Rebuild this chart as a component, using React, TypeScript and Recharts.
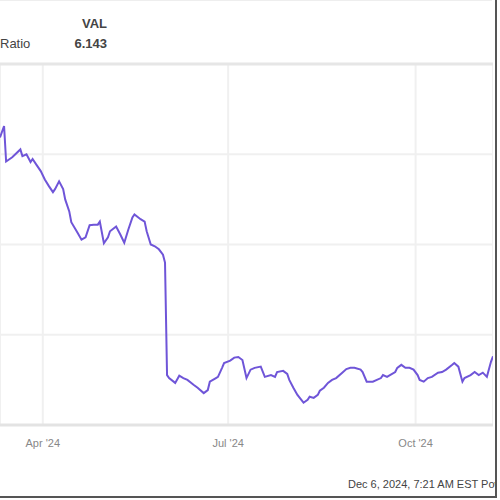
import React from "react";
import {
  LineChart,
  Line,
  XAxis,
  YAxis,
  CartesianGrid,
  ReferenceLine,
} from "recharts";

// ratio history
const dates = [
  "2024-03-11", "2024-03-13", "2024-03-14", "2024-03-17", "2024-03-21", "2024-03-22",
  "2024-03-24", "2024-03-26", "2024-03-27", "2024-03-29", "2024-03-31", "2024-04-02",
  "2024-04-04", "2024-04-06", "2024-04-07", "2024-04-09", "2024-04-11", "2024-04-12",
  "2024-04-14", "2024-04-15", "2024-04-18", "2024-04-20", "2024-04-22", "2024-04-24",
  "2024-04-26", "2024-04-28", "2024-04-29", "2024-05-01", "2024-05-03", "2024-05-04",
  "2024-05-07", "2024-05-09", "2024-05-11", "2024-05-13", "2024-05-15", "2024-05-16",
  "2024-05-19", "2024-05-21", "2024-05-22", "2024-05-24", "2024-05-26", "2024-05-28",
  "2024-05-30", "2024-05-31", "2024-06-01", "2024-06-02", "2024-06-05", "2024-06-07",
  "2024-06-09", "2024-06-11", "2024-06-14", "2024-06-16", "2024-06-19", "2024-06-21",
  "2024-06-22", "2024-06-25", "2024-06-26", "2024-06-28", "2024-06-29", "2024-07-02",
  "2024-07-04", "2024-07-06", "2024-07-08", "2024-07-10", "2024-07-12", "2024-07-14",
  "2024-07-17", "2024-07-19", "2024-07-22", "2024-07-24", "2024-07-25", "2024-07-28",
  "2024-07-30", "2024-07-31", "2024-08-02", "2024-08-04", "2024-08-07", "2024-08-09",
  "2024-08-10", "2024-08-12", "2024-08-14", "2024-08-15", "2024-08-17", "2024-08-19",
  "2024-08-21", "2024-08-23", "2024-08-26", "2024-08-28", "2024-08-30", "2024-09-01",
  "2024-09-04", "2024-09-05", "2024-09-07", "2024-09-10", "2024-09-12", "2024-09-14",
  "2024-09-15", "2024-09-17", "2024-09-18", "2024-09-21", "2024-09-22", "2024-09-24",
  "2024-09-26", "2024-09-28", "2024-09-30", "2024-10-02", "2024-10-03", "2024-10-05",
  "2024-10-07", "2024-10-09", "2024-10-12", "2024-10-14", "2024-10-16", "2024-10-19",
  "2024-10-20", "2024-10-22", "2024-10-24", "2024-10-25", "2024-10-28", "2024-10-30",
  "2024-11-01", "2024-11-03", "2024-11-05", "2024-11-07", "2024-11-08",
];

const ratio = [
  9.78, 9.97, 9.38, 9.45, 9.58, 9.47,
  9.5, 9.37, 9.42, 9.32, 9.22, 9.08,
  8.97, 8.87, 8.92, 9.05, 8.92, 8.75,
  8.55, 8.37, 8.2, 8.08, 8.12, 8.32,
  8.33, 8.33, 8.38, 8.02, 8.12, 8.22,
  8.3, 8.17, 8.03, 8.25, 8.45, 8.5,
  8.42, 8.38, 8.22, 8.0, 7.97, 7.92,
  7.83, 7.7, 5.83, 5.78, 5.7, 5.82,
  5.78, 5.75, 5.67, 5.62, 5.53, 5.58,
  5.72, 5.78, 5.8, 5.95, 6.03, 6.07,
  6.12, 6.13, 6.08, 5.78, 5.92, 5.95,
  5.97, 5.8, 5.83, 5.8, 5.88, 5.9,
  5.85, 5.75, 5.62, 5.5, 5.37, 5.42,
  5.47, 5.45, 5.5, 5.57, 5.62, 5.7,
  5.75, 5.78, 5.87, 5.93, 5.95, 5.95,
  5.92, 5.88, 5.72, 5.72, 5.75, 5.78,
  5.83, 5.8, 5.82, 5.88, 5.95, 6.0,
  5.95, 5.95, 5.92, 5.83, 5.75, 5.72,
  5.78, 5.8, 5.87, 5.88, 5.92, 6.0,
  6.03, 5.97, 5.72, 5.78, 5.83, 5.88,
  5.83, 5.87, 5.8, 6.05, 6.143,
];

const tickDates = ["2024-04-01", "2024-07-01", "2024-10-01"];
const tickLabels = ["Apr '24", "Jul '24", "Oct '24"];
const xRange = ["2024-03-11", "2024-11-08"];
const yTicks = [5, 6.5, 8, 9.5, 11];

const toTime = (d: string) => Date.parse(d + "T00:00:00Z");

const data = dates.map((d, i) => ({ t: toTime(d), v: ratio[i] }));
const ticks = tickDates.map(toTime);

const fmtTick = (t: number) => {
  const i = ticks.indexOf(t);
  return i >= 0 ? tickLabels[i] : "";
};

const font = '"Liberation Sans", Arial, sans-serif';

export default function App() {
  return (
    <div
      style={{
        position: "absolute",
        left: 0,
        top: 0,
        width: 495,
        height: 496,
        background: "#fff",
        borderRight: "2px solid #555",
        borderBottom: "2px solid #555",
        overflow: "hidden",
        fontFamily: font,
      }}
    >
      <div
        style={{
          position: "absolute",
          left: 0,
          top: 0,
          width: 492,
          height: 1,
          background: "#eee",
        }}
      />
      <div
        style={{
          position: "absolute",
          right: 388,
          top: 16,
          fontSize: 13,
          fontWeight: "bold",
          color: "#444",
        }}
      >
        VAL
      </div>
      <div
        style={{
          position: "absolute",
          left: 0,
          top: 36,
          fontSize: 13,
          color: "#444",
        }}
      >
        Ratio
      </div>
      <div
        style={{
          position: "absolute",
          right: 388,
          top: 36,
          fontSize: 13,
          fontWeight: "bold",
          color: "#444",
        }}
      >
        6.143
      </div>
      <LineChart
        width={493}
        height={500}
        data={data}
        margin={{ top: 64, right: 0, left: 0, bottom: 45 }}
      >
        <CartesianGrid stroke="#f0f0f0" strokeWidth={2} />
        <XAxis
          dataKey="t"
          type="number"
          domain={xRange.map(toTime)}
          ticks={ticks}
          tickFormatter={fmtTick}
          axisLine={{ stroke: "#e3e3e3", strokeWidth: 3 }}
          tickLine={false}
          tickMargin={8}
          height={30}
          tick={{ fill: "#888", fontSize: 11, fontFamily: font }}
          allowDataOverflow
        />
        <YAxis hide domain={[5, 11]} ticks={yTicks} />
        <ReferenceLine y={11} stroke="#e6e6e6" strokeWidth={3} />
        <Line
          type="linear"
          dataKey="v"
          stroke="#6f55d8"
          strokeWidth={2}
          dot={false}
          isAnimationActive={false}
        />
      </LineChart>
      <div
        style={{
          position: "absolute",
          left: 348,
          top: 478,
          fontSize: 11,
          color: "#444",
          whiteSpace: "nowrap",
        }}
      >
        Dec 6, 2024, 7:21 AM EST Powered by YCHARTS
      </div>
    </div>
  );
}
